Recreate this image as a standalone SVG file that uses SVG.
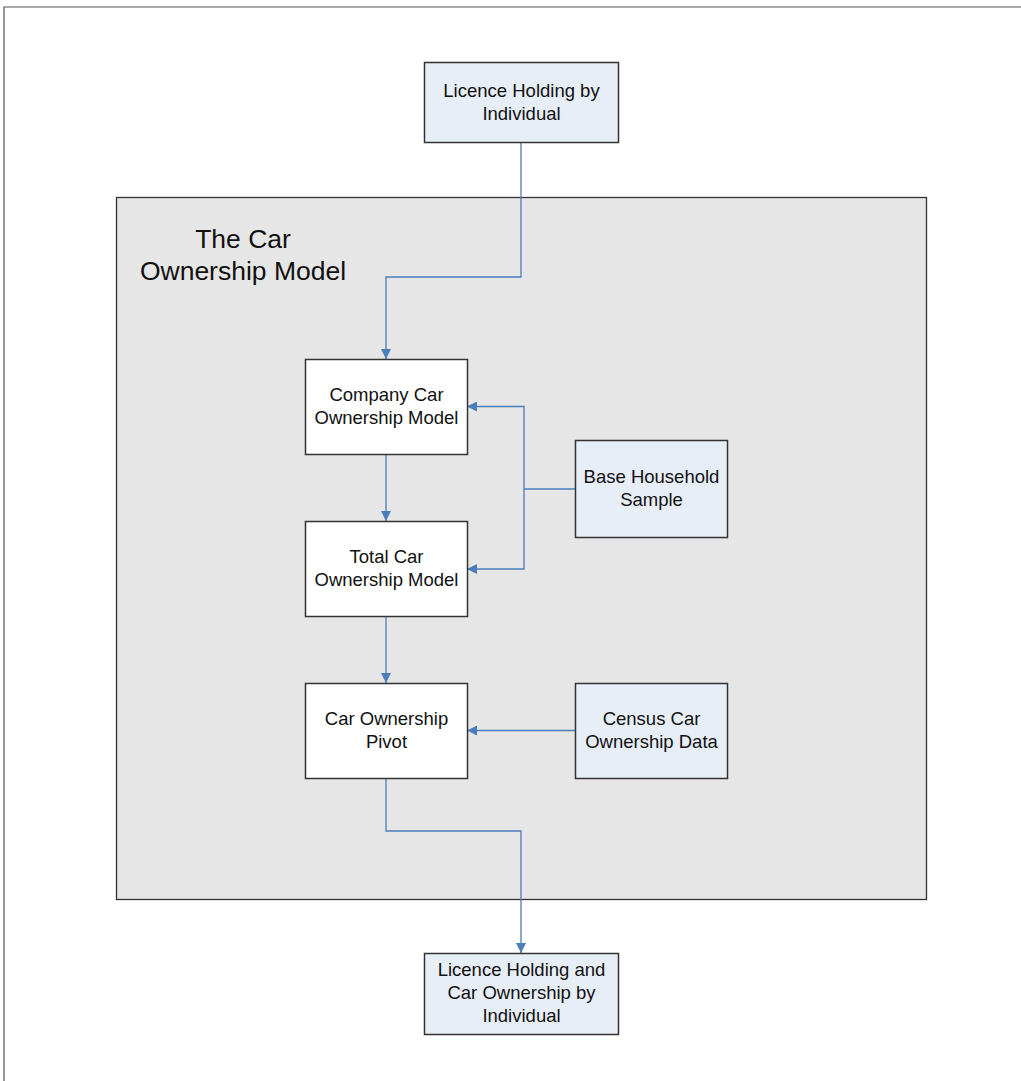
<svg xmlns="http://www.w3.org/2000/svg" width="1021" height="1081" viewBox="0 0 1021 1081">
<defs>
<style>
.n{stroke:#333;stroke-width:1.5}
.ext{fill:#E8EEF7}
.int{fill:#FFFFFF}
.t{font-family:"Liberation Sans",Arial,sans-serif;font-size:18.5px;fill:#111;text-anchor:middle}
.title{font-family:"Liberation Sans",Arial,sans-serif;font-size:26.5px;fill:#111;text-anchor:middle}
.c{fill:none;stroke:#4A7EBB;stroke-width:1.3}
</style>
<marker id="ah" viewBox="0 0 10 10" refX="10" refY="5" markerWidth="10" markerHeight="10" markerUnits="userSpaceOnUse" orient="auto">
<path d="M0,0 L10,5 L0,10 z" fill="#4A7EBB"/>
</marker>
</defs>
<rect width="1021" height="1081" fill="#fff"/>
<path d="M4,1081 V7 H1021" fill="none" stroke="#555" stroke-width="1.2"/>
<g id="model">
<rect x="116.5" y="197.5" width="810" height="702" fill="#E6E6E6" stroke="#333" stroke-width="1.3"/>
<text class="title" x="243" y="248">The Car</text>
<text class="title" x="243" y="280">Ownership Model</text>
</g>
<g id="connectors">
<path class="c" d="M521,142 V277 H386 V359" marker-end="url(#ah)"/>
<path class="c" d="M386,454 V521" marker-end="url(#ah)"/>
<path class="c" d="M386,616 V683" marker-end="url(#ah)"/>
<path class="c" d="M386,778 V831 H521 V953" marker-end="url(#ah)"/>
<path class="c" d="M575,489 H524"/>
<path class="c" d="M524,489 V406.5 H467" marker-end="url(#ah)"/>
<path class="c" d="M524,489 V569 H467" marker-end="url(#ah)"/>
<path class="c" d="M575,730.5 H467" marker-end="url(#ah)"/>
</g>
<g id="licence">
<rect class="n ext" x="424.5" y="62.5" width="194" height="80"/>
<text class="t" x="521.5" y="97">Licence Holding by</text>
<text class="t" x="521.5" y="120">Individual</text>
</g>
<g id="company">
<rect class="n int" x="305.5" y="359.5" width="162" height="95"/>
<text class="t" x="386.5" y="401">Company Car</text>
<text class="t" x="386.5" y="424">Ownership Model</text>
</g>
<g id="total">
<rect class="n int" x="305.5" y="521.5" width="162" height="95"/>
<text class="t" x="386.5" y="563">Total Car</text>
<text class="t" x="386.5" y="586">Ownership Model</text>
</g>
<g id="pivot">
<rect class="n int" x="305.5" y="683.5" width="162" height="95"/>
<text class="t" x="386.5" y="725">Car Ownership</text>
<text class="t" x="386.5" y="748">Pivot</text>
</g>
<g id="base">
<rect class="n ext" x="575.5" y="440.5" width="152" height="97"/>
<text class="t" x="651.5" y="483">Base Household</text>
<text class="t" x="651.5" y="506">Sample</text>
</g>
<g id="census">
<rect class="n ext" x="575.5" y="683.5" width="152" height="95"/>
<text class="t" x="651.5" y="725">Census Car</text>
<text class="t" x="651.5" y="748">Ownership Data</text>
</g>
<g id="output">
<rect class="n ext" x="424.5" y="953.5" width="194" height="81"/>
<text class="t" x="521.5" y="976">Licence Holding and</text>
<text class="t" x="521.5" y="999">Car Ownership by</text>
<text class="t" x="521.5" y="1022">Individual</text>
</g>
</svg>
